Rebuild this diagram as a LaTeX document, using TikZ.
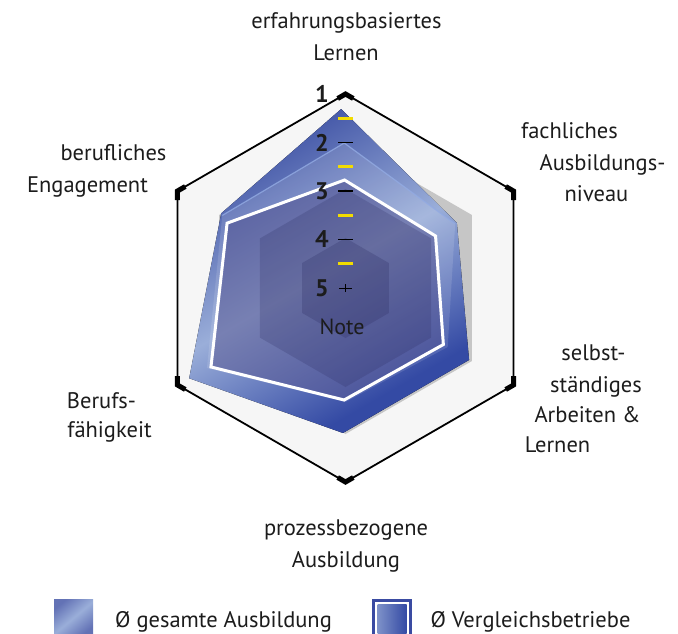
\documentclass[tikz,border=0pt]{standalone}
\usepackage{fontspec}
\setmainfont{PT Sans}
\usetikzlibrary{calc}
\definecolor{bgray}{HTML}{F6F6F6}
\definecolor{shgray}{HTML}{C6C6C6}
\definecolor{blueD}{HTML}{3C4FA3}
\definecolor{blueL}{HTML}{9AAED9}
\definecolor{blueE}{HTML}{344AA4}
\definecolor{cfill}{HTML}{4A4A8A}
\definecolor{hexdark}{HTML}{2A2A60}
\definecolor{ltblue}{HTML}{92AAE2}
\definecolor{tickyel}{HTML}{F2DC00}
\definecolor{txt}{HTML}{1C1C1C}
\definecolor{legblue}{HTML}{3A4BA2}
\pgfdeclarehorizontalshading{gloss}{100bp}{color(0bp)=(blueD); color(25bp)=(blueD); color(50bp)=(blueL); color(72bp)=(blueE); color(100bp)=(blueE)}
\pgfdeclarehorizontalshading{legA}{100bp}{color(0bp)=(blueD!80!white); color(25bp)=(blueD!80!white); color(50bp)=(blueL); color(75bp)=(blueD!80!white); color(100bp)=(blueD!80!white)}
\pgfdeclarehorizontalshading{legB}{100bp}{color(0bp)=(blueL!70!blueD); color(25bp)=(blueL!70!blueD); color(75bp)=(blueE); color(100bp)=(blueE)}
\tikzset{
  lbl/.style={anchor=base, inner sep=0pt, text=txt, font=\fontsize{22.5}{26}\selectfont},
  num/.style={anchor=center, inner sep=0pt, text=txt, font=\fontsize{24}{26}\selectfont\bfseries},
  vmark/.style={line width=5pt, line join=miter, black},
  ticknorm/.style={line width=1.3pt, black},
  tickhalf/.style={line width=2.6pt, tickyel},
}
\begin{document}
\begin{tikzpicture}[x=1pt,y=1pt]
\useasboundingbox (0,0) rectangle (678,-633);
\coordinate (O) at (345.5,-288);
\foreach \a/\n in {90/t,30/ur,-30/lr,-90/b,210/ll,150/ul}
  \coordinate (h\n) at ($(O)+(\a:194)$);
% outer hexagon
\draw[fill=bgray, line width=1.8pt] (ht)--(hur)--(hlr)--(hb)--(hll)--(hul)--cycle;
\begin{scope}[shift={(O)}]
  % grey hexagon (grade 2)
  \fill[shgray] (90:146)--(30:146)--(-30:146)--(-90:146)--(210:146)--(150:146)--cycle;
  % polygon A
  \fill[shading=gloss, shading angle=-60] (91.4:179)--(30.3:129)--(-30.2:143)--(-91:145)--(210:180.5)--(149:145)--cycle;
  % polygon B (lighter layer)
  \fill[white, fill opacity=0.12] (90.5:145)--(30.3:127)--(-30:118)--(-90:114)--(210:160)--(149.5:143)--cycle;
  \draw[ltblue, line width=1.2pt, opacity=0.8] (149.5:143)--(90.5:145)--(30.3:127);
  % polygon C
  \fill[cfill, fill opacity=0.5] (90.5:108)--(30:104)--(-30:113)--(-90.7:112)--(210.4:156)--(151.3:135)--cycle;
  % decorative hexagons
  \fill[hexdark, fill opacity=0.22] (90:99)--(30:99)--(-30:99)--(-90:99)--(210:99)--(150:99)--cycle;
  \fill[hexdark, fill opacity=0.25] (90:50)--(30:50)--(-30:50)--(-90:50)--(210:50)--(150:50)--cycle;
  \draw[white, line width=3pt, line join=miter] (90.5:108)--(30:104)--(-30:113)--(-90.7:112)--(210.4:156)--(151.3:135)--cycle;
\end{scope}
% vertex markers
\draw[vmark] ($(ht)!9pt!(hul)$)--(ht)--($(ht)!9pt!(hur)$);
\draw[vmark] ($(hur)!9pt!(ht)$)--(hur)--($(hur)!9pt!(hlr)$);
\draw[vmark] ($(hlr)!9pt!(hur)$)--(hlr)--($(hlr)!9pt!(hb)$);
\draw[vmark] ($(hb)!9pt!(hlr)$)--(hb)--($(hb)!9pt!(hll)$);
\draw[vmark] ($(hll)!9pt!(hb)$)--(hll)--($(hll)!9pt!(hul)$);
\draw[vmark] ($(hul)!9pt!(hll)$)--(hul)--($(hul)!9pt!(ht)$);
% scale ticks
\foreach \g in {2,3,4} {
  \draw[ticknorm] (338,{-288+(5-\g)*48.5}) -- (353,{-288+(5-\g)*48.5});
}
\foreach \g in {1.5,2.5,3.5,4.5} {
  \draw[tickhalf] (338,{-288+(5-\g)*48.5}) -- (353,{-288+(5-\g)*48.5});
}
\draw[line width=1pt, black] (339,-288) -- (352,-288) (345.5,-284) -- (345.5,-292);
% scale numbers
\node[num] (n1) at (322,-94) {1};
\node[num] (n2) at (322,-142.5) {2};
\node[num] (n3) at (322,-191) {3};
\node[num] (n4) at (322,-239.5) {4};
\node[num] (n5) at (322,-288) {5};
\node[anchor=center, inner sep=0pt, text=txt, font=\fontsize{22}{24}\selectfont] (note) at (342,-327) {Note};
% axis labels
\node[lbl] (l1a) at (346.5,-28) {erfahrungsbasiertes};
\node[lbl] (l1b) at (346,-60) {Lernen};
\node[lbl] (l2a) at (569.5,-138) {fachliches};
\node[lbl] (l2b) at (602.5,-170) {Ausbildungs-};
\node[lbl] (l2c) at (596.5,-201) {niveau};
\node[lbl] (l3a) at (593.5,-360) {selbst-};
\node[lbl] (l3b) at (596,-392) {ständiges};
\node[lbl] (l3c) at (587.5,-422) {Arbeiten \&};
\node[lbl] (l3d) at (557.5,-452) {Lernen};
\node[lbl] (l4a) at (346,-535) {prozessbezogene};
\node[lbl] (l4b) at (346,-567) {Ausbildung};
\node[lbl] (l5a) at (101.5,-408) {Berufs-};
\node[lbl] (l5b) at (109.5,-437) {fähigkeit};
\node[lbl] (l6a) at (113.5,-160) {berufliches};
\node[lbl] (l6b) at (87.5,-192) {Engagement};
% legend
\shade[shading=legA, shading angle=-50] (54,-599) rectangle (93,-636);
\node[lbl] (leg1) at (223.5,-627) {Ø gesamte Ausbildung};
\fill[legblue] (372,-599) rectangle (412,-636);
\fill[white] (375,-602) rectangle (409,-636);
\shade[shading=legB, shading angle=0] (377.5,-604.5) rectangle (406.5,-636);
\node[lbl] (leg2) at (530.5,-627) {Ø Vergleichsbetriebe};
\end{tikzpicture}
\end{document}
